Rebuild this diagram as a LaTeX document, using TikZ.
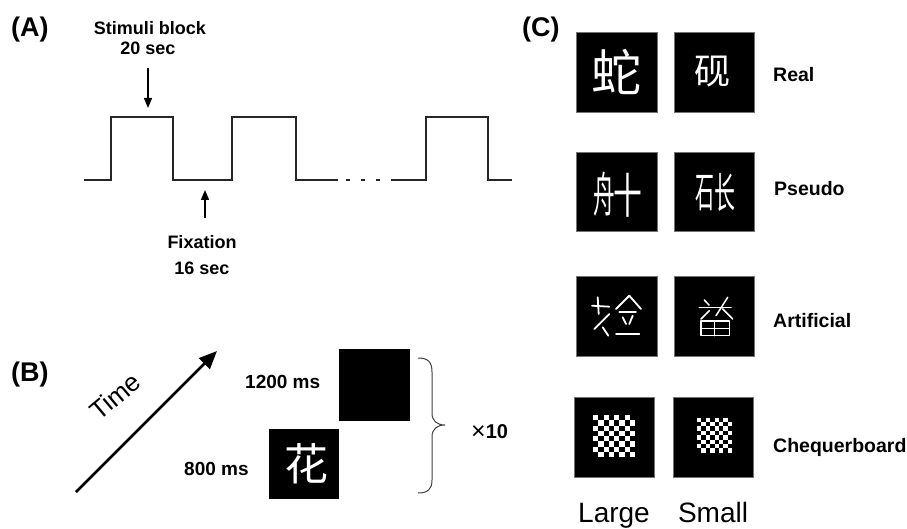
\documentclass[tikz,border=0pt]{standalone}
\usepackage{fontspec}
\setmainfont{Liberation Sans}
\newfontfamily\cjk{Noto Sans CJK SC}
\usetikzlibrary{arrows.meta}
\begin{document}
\begin{tikzpicture}[x=1pt,y=-1pt,
  lbl/.style={font=\fontsize{18}{20}\selectfont\bfseries, inner sep=0pt},
  mslbl/.style={font=\fontsize{19}{20}\selectfont\bfseries, inner sep=0pt, anchor=base west},
  panel/.style={font=\fontsize{27}{30}\selectfont\bfseries, inner sep=0pt, anchor=base west},
  wave/.style={line width=1.5pt, draw=black!85, line join=miter},
  blk/.style={fill=black, draw=black!55, line width=0.6pt},
  glyph/.style={text=white, inner sep=0pt},
  art/.style={draw=white, line width=1.8pt, line cap=round, line join=round},
  tip/.style={-{Triangle[width=8pt,length=10pt]}, line width=1.4pt},
  bigtip/.style={-{Triangle[width=15pt,length=18pt]}, line width=2.8pt},
  clab/.style={font=\fontsize{19.5}{21}\selectfont\bfseries, inner sep=0pt, anchor=base west},
  szlab/.style={font=\fontsize{28}{30}\selectfont, inner sep=0pt, anchor=base}
]
\useasboundingbox (0,0) rectangle (907,529);

% ---------- panel labels
\node[panel] (pa) at (11,37) {(A)};
\node[panel] (pb) at (11,381) {(B)};
\node[panel] (pc) at (522,37) {(C)};

% ---------- panel A
\node[lbl, anchor=base] (stim) at (150,35) {Stimuli block};
\node[lbl, anchor=base] (stimt) at (148,55) {20 sec};
\coordinate (sa1) at (148,68);
\coordinate (sa2) at (148,108);
\draw[tip] (sa1) -- (sa2);

\draw[wave] (84,180) -- (111,180) -- (111,117) -- (173,117) -- (173,180) -- (232,180)
  -- (232,117) -- (296,117) -- (296,180) -- (338,180);
\draw[wave] (346,180) -- (350,180);
\draw[wave] (361,180) -- (365,180);
\draw[wave] (376,180) -- (380,180);
\draw[wave] (391,180) -- (426,180) -- (426,117) -- (488,117) -- (488,180) -- (512,180);

\coordinate (fa1) at (205,218);
\coordinate (fa2) at (205,190);
\draw[tip] (fa1) -- (fa2);
\node[lbl, anchor=base] (fix) at (202,249) {Fixation};
\node[lbl, anchor=base] (fixt) at (202,275) {16 sec};

% ---------- panel B
\coordinate (t1) at (76,492);
\coordinate (t2) at (217,351);
\draw[bigtip] (t1) -- (t2);
\node[font=\fontsize{26}{28}\selectfont, rotate=40, inner sep=0pt] (time) at (115,396) {Time};

\fill[black] (339,349) rectangle (410,421);
\fill[black] (269,429) rectangle (339,499);
\node[glyph, font=\cjk\fontsize{44}{44}\selectfont] (hua) at (306,464) {花};
\node[mslbl] (ms1200) at (245,388) {1200 ms};
\node[mslbl] (ms800) at (184,475) {800 ms};

\draw[line width=1pt, draw=black!75] (418,358) .. controls (428,358) and (432,362) .. (432,372)
  -- (432,413) .. controls (432,421) and (437,425) .. (445,425)
  .. controls (437,425) and (432,429) .. (432,437)
  -- (432,480) .. controls (432,489) and (428,493) .. (418,493);
\node[inner sep=0pt, anchor=base west] (x10) at (471,438)
  {{\fontsize{25}{26}\selectfont\raisebox{-1pt}{×}}{\fontsize{20}{22}\selectfont\bfseries 10}};

% ---------- panel C
% row 1: real
\draw[blk] (576,32) rectangle (657,112);
\draw[blk] (674,32) rectangle (754,112);
\node[glyph, font=\cjk\fontsize{50}{50}\selectfont] (she) at (616.5,72) {蛇};
\node[glyph, font=\cjk\fontsize{36}{36}\selectfont] (yan) at (712,72) {砚};
\node[clab] (real) at (773,82) {Real};

% row 2: pseudo
\draw[blk] (576,152) rectangle (657,231);
\draw[blk] (674,152) rectangle (754,231);
\node[glyph, font=\cjk\fontsize{48}{48}\selectfont] (ps1a) at (604,194) {\scalebox{0.45}[1]{舟}};
\node[glyph, font=\cjk\fontsize{48}{48}\selectfont] (ps1b) at (628,195) {\scalebox{0.6}[1]{十}};
\node[glyph, font=\cjk\fontsize{42}{42}\selectfont] (ps2a) at (705,193) {\scalebox{0.45}[1]{石}};
\node[glyph, font=\cjk\fontsize{42}{42}\selectfont] (ps2b) at (724.5,193) {\scalebox{0.5}[1]{长}};
\node[clab] (pseudo) at (774,196) {Pseudo};

% row 3: artificial
\draw[blk] (576,276) rectangle (657,356);
\draw[blk] (674,276) rectangle (754,356);
% large artificial glyph
\draw[art] (597.7,297.3) -- (598.7,314);
\draw[art] (592,305.7) -- (609.3,306.7);
\draw[art] (609.3,314) -- (594.3,329);
\draw[art] (602.7,327.3) -- (608.3,335.7);
\draw[art] (616,309) -- (629.3,295.7) -- (641,309);
\draw[art] (619.3,312.3) -- (636,312.3);
\draw[art] (622.7,317.3) -- (626,324);
\draw[art] (632.7,315.7) -- (629.3,324);
\draw[art] (616,334) -- (639.3,334);
% small artificial glyph
\draw[art, line width=1.5pt] (699.3,307.3) -- (731,307.3);
\draw[art, line width=1.5pt] (704.3,300) -- (709,305);
\draw[art, line width=1.5pt] (727.7,297.3) -- (716,315.7);
\draw[art, line width=1.5pt] (722.7,309) -- (732.7,319);
\draw[art, line width=1.5pt] (709.3,310.7) -- (701,319);
\draw[art, line width=1.5pt] (701,321) rectangle (729.3,335.7);
\draw[art, line width=1.5pt] (714.3,321) -- (714.3,335.7);
\draw[art, line width=1.5pt] (701,328.3) -- (729.3,328.3);
\node[clab] (artificial) at (773,327) {Artificial};

% row 4: chequerboard
\draw[blk] (574,397) rectangle (654,477);
\draw[blk] (673,397) rectangle (753,477);
\foreach \i in {0,...,7}{\foreach \j in {0,...,7}{
  \pgfmathtruncatemacro\cpar{mod(\i+\j,2)}
  \ifnum\cpar=0
    \fill[white] (593+\i*5.25, 415+\j*5.25) rectangle ++(5.25,5.25);
    \fill[white] (697+\i*4.4, 417.5+\j*4.4) rectangle ++(4.4,4.4);
  \fi}}
\node[clab] (cheq) at (773,452) {Chequerboard};

\node[szlab] (large) at (614,522) {Large};
\node[szlab] (small) at (713,522) {Small};
\end{tikzpicture}
\end{document}
